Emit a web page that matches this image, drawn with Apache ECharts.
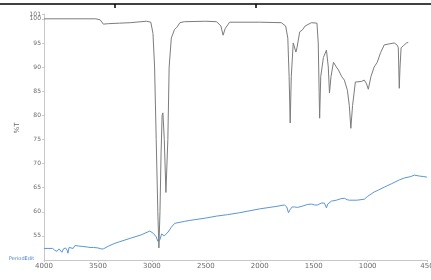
<!DOCTYPE html>
<html>
<head>
<meta charset="utf-8">
<script src="https://cdn.jsdelivr.net/npm/echarts@6/dist/echarts.min.js"></script>
<style>
html,body{margin:0;padding:0;background:#fff;}
#chart{width:431px;height:280px;}
</style>
</head>
<body>
<div id="chart"></div>
<script>
// Tick labels
var xTicks = [4000, 3500, 3000, 2500, 2000, 1500, 1000, 450];
var yTicks = [100, 95, 90, 85, 80, 75, 70, 65, 60, 55];
var yTopTick = [101];

// Sample spectrum (grey/black): [wavenumber, %T]
var sampleSpectrum = [
  [4000,100],[3520,100],[3480,99.8],[3450,98.9],[3400,99.0],[3300,99.1],[3200,99.2],[3100,99.4],
  [3050,99.5],[3010,99.3],[2990,97],[2975,90],[2960,75],[2945,60],[2935,52.5],[2925,60],
  [2915,72],[2905,80],[2898,80.5],[2885,75],[2870,64],[2862,64],[2852,75],[2840,90],
  [2820,96],[2790,97.8],[2770,98.2],[2740,99.2],[2700,99.4],[2500,99.5],[2400,99.4],
  [2360,98.5],[2340,96.6],[2320,98],[2280,99.3],[2000,99.3],[1800,99.2],[1760,98.5],
  [1740,96],[1728,88],[1718,78.4],[1708,88],[1690,95],[1678,95.2],[1665,93.1],[1655,94],
  [1630,97.3],[1605,97.7],[1580,98.5],[1521,99.2],[1470,99.1],[1458,95],[1450,85],
  [1445,79.4],[1435,88],[1410,92],[1382,93.5],[1365,90],[1354,84.6],[1340,88],[1317,91],
  [1290,90],[1271,89.4],[1240,88],[1216,87.3],[1188,85.2],[1170,82],[1156,77.3],[1140,82],
  [1114,86.9],[1060,87.0],[1031,87.3],[1010,86.5],[994,85.4],[970,88],[940,90],[911,91],
  [880,93],[846,94.6],[800,94.8],[753,95],[725,94.5],[716,94.0],[707,85.6],[700,90],
  [690,94],[670,94.4],[640,95.0],[624,95.1]
];

// Background / second spectrum (blue): [wavenumber, %T]
var blueSpectrum = [
  [4000,52.4],[3920,52.4],[3900,52.0],[3880,51.8],[3870,51.4],[3860,52.3],[3845,52.0],
  [3834,51.6],[3820,52.3],[3800,52.5],[3785,52.0],[3778,51.4],[3768,52.6],[3750,52.9],
  [3730,52.4],[3713,53.0],[3700,52.6],[3680,52.9],[3667,52.5],[3640,52.8],[3600,52.7],
  [3574,52.6],[3540,52.6],[3500,52.5],[3470,52.3],[3450,52.3],[3400,52.9],[3350,53.4],
  [3297,53.8],[3200,54.5],[3100,55.2],[3019,56.0],[2985,55.5],[2960,54.8],[2945,53.9],
  [2936,53.5],[2925,54.2],[2910,55.4],[2899,55.6],[2885,55.0],[2871,54.7],[2850,55.8],
  [2820,56.8],[2788,57.6],[2700,58.0],[2650,58.2],[2500,58.7],[2400,59.1],[2300,59.4],
  [2187,59.8],[2000,60.6],[1850,61.1],[1771,61.4],[1750,61.0],[1734,59.8],[1720,60.4],
  [1700,61.0],[1678,61.0],[1650,60.9],[1632,60.8],[1600,61.2],[1560,61.5],[1521,61.6],
  [1490,61.4],[1466,61.4],[1430,61.8],[1401,61.8],[1390,61.6],[1382,60.8],[1370,61.6],
  [1336,62.2],[1290,62.4],[1250,62.7],[1216,62.8],[1190,62.5],[1170,62.4],[1100,62.4],
  [1031,62.6],[1000,63.2],[984,63.5],[940,64.1],[900,64.5],[846,65.1],[780,65.8],
  [707,66.6],[661,67.0],[600,67.3],[568,67.6],[520,67.4],[480,67.3],[457,67.2],[450,67.2]
];

var chart = echarts.init(document.getElementById('chart'), null, {renderer: 'canvas'});
var axisColor = '#c8c8c8';
var labelColor = '#6a6a6a';
function yAxisCfg(ticks, showLine) {
  return {
    type: 'value', min: 50, max: 101, position: 'left',
    axisLine: {show: showLine, lineStyle: {color: axisColor, width: 1}},
    axisTick: {show: true, length: 2, lineStyle: {color: axisColor}, customValues: ticks},
    axisLabel: {color: labelColor, fontSize: 6, margin: 3, fontFamily: 'DejaVu Sans',
      customValues: ticks, hideOverlap: false, showMinLabel: true, showMaxLabel: true,
      formatter: function (v) { return String(v); }},
    splitLine: {show: false}
  };
}
chart.setOption({
  backgroundColor: '#ffffff',
  animation: false,
  grid: {left: 44, right: 4, top: 14, bottom: 20, containLabel: false, outerBoundsMode: 'none'},
  xAxis: {
    type: 'value', inverse: true, min: 450, max: 4000,
    axisLine: {show: true, lineStyle: {color: axisColor, width: 1}},
    axisTick: {show: true, length: 2, lineStyle: {color: axisColor}, customValues: xTicks},
    axisLabel: {color: labelColor, fontSize: 7, margin: 3, fontFamily: 'DejaVu Sans',
      customValues: xTicks, hideOverlap: false, showMinLabel: true, showMaxLabel: true,
      formatter: function (v) { return String(v); }},
    splitLine: {show: false}
  },
  yAxis: [yAxisCfg(yTicks, true), yAxisCfg(yTopTick, false)],
  series: [
    {
      type: 'line', data: sampleSpectrum, showSymbol: false, smooth: false,
      lineStyle: {color: '#7c7c7c', width: 1}, z: 3
    },
    {
      type: 'line', data: blueSpectrum, showSymbol: false, smooth: false,
      lineStyle: {color: '#5a96d6', width: 1}, z: 2
    }
  ],
  graphic: [
    {type: 'line', shape: {x1: 0, y1: 4, x2: 431, y2: 4}, style: {stroke: '#000', lineWidth: 1.5}},
    {type: 'line', shape: {x1: 115, y1: 4, x2: 115, y2: 8}, style: {stroke: '#000', lineWidth: 1.5}},
    {type: 'line', shape: {x1: 256, y1: 4, x2: 256, y2: 8}, style: {stroke: '#000', lineWidth: 1.5}},
    {type: 'text', x: 17, y: 128, rotation: Math.PI / 2,
      style: {text: '%T', fill: labelColor, fontSize: 7, fontFamily: 'DejaVu Sans', align: 'center', verticalAlign: 'middle'}},
    {type: 'text', left: 9, top: 256, style: {text: 'PeriodEdit', fill: '#4a7fc8', fontSize: 5, fontFamily: 'DejaVu Sans'}}
  ]
});
</script>
</body>
</html>
